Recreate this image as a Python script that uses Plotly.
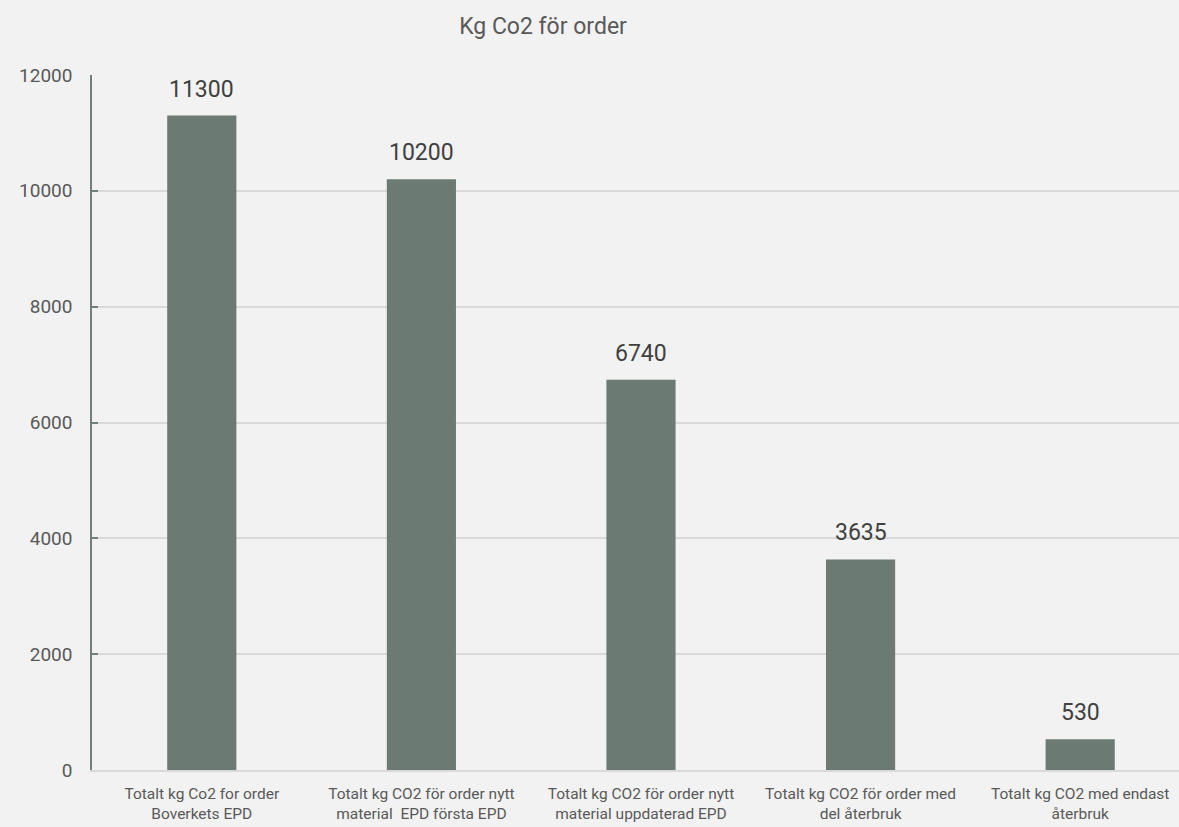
import plotly.graph_objects as go

categories = [
    "Totalt kg Co2 for order<br>Boverkets EPD",
    "Totalt kg CO2 för order nytt<br>material  EPD första EPD",
    "Totalt kg CO2 för order nytt<br>material uppdaterad EPD",
    "Totalt kg CO2 för order med<br>del återbruk",
    "Totalt kg CO2 med endast<br>återbruk",
]
values = [11300, 10200, 6740, 3635, 530]
y_ticks = [0, 2000, 4000, 6000, 8000, 10000, 12000]

BAR = "#6b7b74"
BG = "#f2f2f2"
FONT = "Roboto, Liberation Sans, sans-serif"

fig = go.Figure()
fig.add_trace(go.Bar(
    x=list(range(len(categories))),
    y=values,
    marker=dict(color=BAR, line=dict(width=0)),
    width=0.315,
    hoverinfo="skip",
))

for i, v in enumerate(values):
    fig.add_annotation(
        x=i, y=v, text=str(v), showarrow=False,
        yanchor="bottom", yshift=11,
        font=dict(family=FONT, size=23, color="#404040"),
    )

fig.update_layout(
    width=1179, height=827,
    paper_bgcolor=BG, plot_bgcolor=BG,
    margin=dict(l=92, r=0, t=75, b=57),
    showlegend=False,
    font=dict(family=FONT),
    title=dict(
        text="Kg Co2 för order", x=543 / 1179, xanchor="center",
        y=1 - 26 / 827, yanchor="middle", xref="container", yref="container",
        font=dict(family=FONT, size=23, color="#595959"),
    ),
)
fig.update_xaxes(
    tickmode="array",
    tickvals=list(range(len(categories))),
    ticktext=categories,
    range=[-0.5, 4.45],
    showgrid=False, zeroline=False,
    showline=True, linecolor="#d9d9d9", linewidth=2,
    ticks="", tickfont=dict(family=FONT, size=15.5, color="#595959"),
    ticklabelstandoff=8,
)
fig.update_yaxes(
    range=[0, 12000],
    tickmode="array", tickvals=y_ticks, tickformat="d",
    showgrid=True, gridcolor="#d9d9d9", gridwidth=1.5,
    zeroline=False,
    showline=True, linecolor="#718079", linewidth=1.5,
    ticks="inside", ticklen=6, tickcolor="#718079", tickwidth=1.5,
    tickfont=dict(family=FONT, size=19, color="#595959"),
    ticklabelstandoff=14,
)

fig.write_html(
    "out.html",
    config={"displayModeBar": False},
    post_script="document.body.style.margin='0';document.body.style.background='#f2f2f2';",
)
